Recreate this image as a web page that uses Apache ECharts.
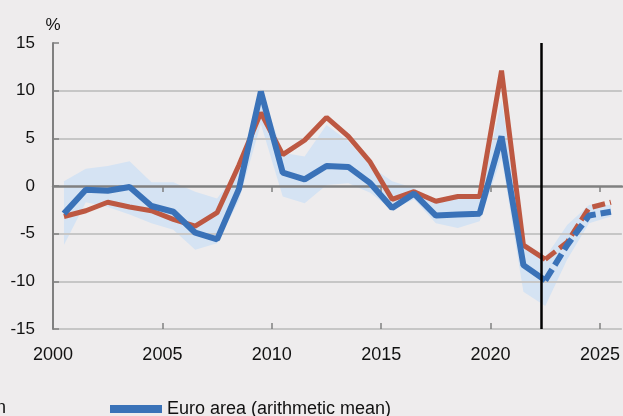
<!DOCTYPE html>
<html>
<head>
<meta charset="utf-8">
<script src="https://cdn.jsdelivr.net/npm/echarts@6/dist/echarts.min.js"></script>
<style>
  html, body { margin: 0; padding: 0; background: #eeeced; }
  #chart { width: 623px; height: 416px; }
</style>
</head>
<body>
<div id="chart"></div>
<script>
// annual data, plotted at mid-year
var years = [2000, 2001, 2002, 2003, 2004, 2005, 2006, 2007, 2008, 2009, 2010, 2011, 2012,
             2013, 2014, 2015, 2016, 2017, 2018, 2019, 2020, 2021, 2022, 2023, 2024, 2025];

// euro area (arithmetic mean), outturns to 2022
var meanActual = [-2.9, -0.4, -0.5, -0.1, -2.1, -2.7, -4.9, -5.6, -0.3, 9.9, 1.4, 0.7, 2.1,
                  2.0, 0.3, -2.3, -0.8, -3.1, -3.0, -2.9, 5.2, -8.3, -9.9];
// projections 2022-2025
var meanProj = [-9.9, -6.2, -3.1, -2.7];

var otherActual = [-3.2, -2.6, -1.7, -2.2, -2.6, -3.5, -4.2, -2.8, 2.2, 7.7, 3.3, 4.8, 7.2,
                   5.2, 2.5, -1.4, -0.6, -1.6, -1.1, -1.1, 12.1, -6.2, -7.7];
var otherProj = [-7.7, -5.9, -2.3, -1.7];

// range across countries
var bandLow = [-6.2, -1.7, -2.2, -3.0, -3.9, -4.6, -6.7, -6.0, -1.5, 6.5, -1.1, -1.8, 0.1,
               0.3, -0.7, -2.5, -1.4, -3.9, -4.4, -3.7, 3.0, -11.1, -12.6, -7.7, -3.9, -3.2];
var bandHigh = [0.5, 1.8, 2.1, 2.6, 0.4, 0.4, -0.6, -1.3, 1.7, 10.2, 3.5, 3.1, 6.4,
                4.7, 2.1, 0.5, -0.2, -1.7, -1.3, -1.3, 9.0, -5.8, -7.5, -4.1, -2.0, -2.0];

var projectionStart = 2022.32;
var xLabels = [2000, 2005, 2010, 2015, 2020, 2025];
var xTicks = [2005, 2010, 2015, 2020, 2025];

var BLUE = '#3a72b8';
var RED = '#bd5842';
var BAND = '#d5e3f3';
var GREY = '#808080';
var FONT = 'Liberation Sans, Arial, sans-serif';

function pts(vals, start) {
    var out = [];
    for (var i = 0; i < vals.length; i++) {
        out.push([years[start + i] + 0.5, vals[i]]);
    }
    return out;
}

// one row per year: x, low, high
var bandRows = years.map(function (y, i) { return [y + 0.5, bandLow[i], bandHigh[i]]; });

var ec = echarts.init(document.getElementById('chart'));

var xBase = { type: 'value', min: 2000, max: 2026, gridIndex: 0 };

ec.setOption({
    backgroundColor: '#eeeced',
    animation: false,
    textStyle: { fontFamily: FONT },
    grid: { left: 53, right: 0, top: 43, bottom: 87, containLabel: false },
    legend: {
        data: ['Euro area (arithmetic mean)'],
        left: 110, top: 400, padding: 0,
        icon: 'rect', itemWidth: 52, itemHeight: 8,
        itemGap: 8,
        textStyle: { fontSize: 18, color: '#111', fontFamily: FONT }
    },
    graphic: [{
        type: 'text', right: 617, top: 399,
        style: { text: 'Median', fontSize: 18, fill: '#111', fontFamily: FONT }
    }],
    xAxis: [
        Object.assign({}, xBase, {
            position: 'bottom',
            axisLine: { show: false, onZero: false },
            axisTick: { show: false },
            splitLine: { show: false },
            axisLabel: {
                customValues: xLabels, fontSize: 18, color: '#111', margin: 17,
                formatter: function (v) { return String(v); }
            }
        }),
        Object.assign({}, xBase, {
            position: 'bottom', z: 2,
            axisLine: { show: true, onZero: true, lineStyle: { color: GREY, width: 2.5 } },
            axisTick: { show: true, inside: false, length: 6, customValues: xTicks, lineStyle: { color: GREY, width: 1.5 } },
            axisLabel: { show: false },
            splitLine: { show: false }
        }),
        Object.assign({}, xBase, {
            position: 'bottom', z: 2,
            axisLine: { show: false, onZero: true },
            axisTick: { show: true, inside: true, length: 6, customValues: xTicks, lineStyle: { color: GREY, width: 1.5 } },
            axisLabel: { show: false },
            splitLine: { show: false }
        })
    ],
    yAxis: {
        type: 'value', min: -15, max: 15, interval: 5, z: 2,
        name: '%', nameLocation: 'end', nameGap: 9,
        nameTextStyle: { fontSize: 17, color: '#111', align: 'center', fontFamily: FONT },
        axisLine: { show: true, lineStyle: { color: GREY, width: 2 } },
        axisTick: { show: true, inside: true, length: 6, lineStyle: { color: GREY, width: 1.5 } },
        axisLabel: { fontSize: 17, color: '#111', margin: 18 },
        splitLine: {
            show: true,
            lineStyle: {
                color: ['#c6c6c6', '#c6c6c6', '#c6c6c6', 'rgba(0,0,0,0)', '#c6c6c6', '#c6c6c6', 'rgba(0,0,0,0)'],
                width: 2
            }
        }
    },
    series: [
        {
            // shaded range drawn as one polygon through the axis scales
            name: 'range', type: 'custom', xAxisIndex: 0, z: 1, silent: true,
            data: bandRows,
            encode: { x: 0, y: [1, 2] },
            renderItem: function (params, api) {
                if (params.dataIndex !== 0) return null;
                var top = [], bottom = [];
                for (var i = 0; i < bandRows.length; i++) {
                    top.push(api.coord([bandRows[i][0], bandRows[i][2]]));
                    bottom.unshift(api.coord([bandRows[i][0], bandRows[i][1]]));
                }
                return {
                    type: 'polygon',
                    shape: { points: top.concat(bottom) },
                    style: { fill: BAND }
                };
            }
        },
        {
            name: 'Median', type: 'line', xAxisIndex: 0, z: 3, symbol: 'none',
            lineStyle: { color: RED, width: 5 },
            itemStyle: { color: RED },
            data: pts(otherActual, 0),
            markLine: {
                silent: true, symbol: 'none', label: { show: false },
                lineStyle: { color: '#000', width: 2.5, type: 'solid' },
                data: [{ xAxis: projectionStart }]
            }
        },
        {
            name: 'Median proj', type: 'line', xAxisIndex: 0, z: 3, symbol: 'none',
            lineStyle: { color: RED, width: 5, type: [13, 5] },
            data: pts(otherProj, 22)
        },
        {
            name: 'Euro area (arithmetic mean)', type: 'line', xAxisIndex: 0, z: 4, symbol: 'none',
            lineStyle: { color: BLUE, width: 6 },
            itemStyle: { color: BLUE },
            data: pts(meanActual, 0)
        },
        {
            name: 'Euro area proj', type: 'line', xAxisIndex: 0, z: 4, symbol: 'none',
            lineStyle: { color: BLUE, width: 6, type: [13, 5] },
            data: pts(meanProj, 22)
        }
    ]
});
</script>
</body>
</html>
